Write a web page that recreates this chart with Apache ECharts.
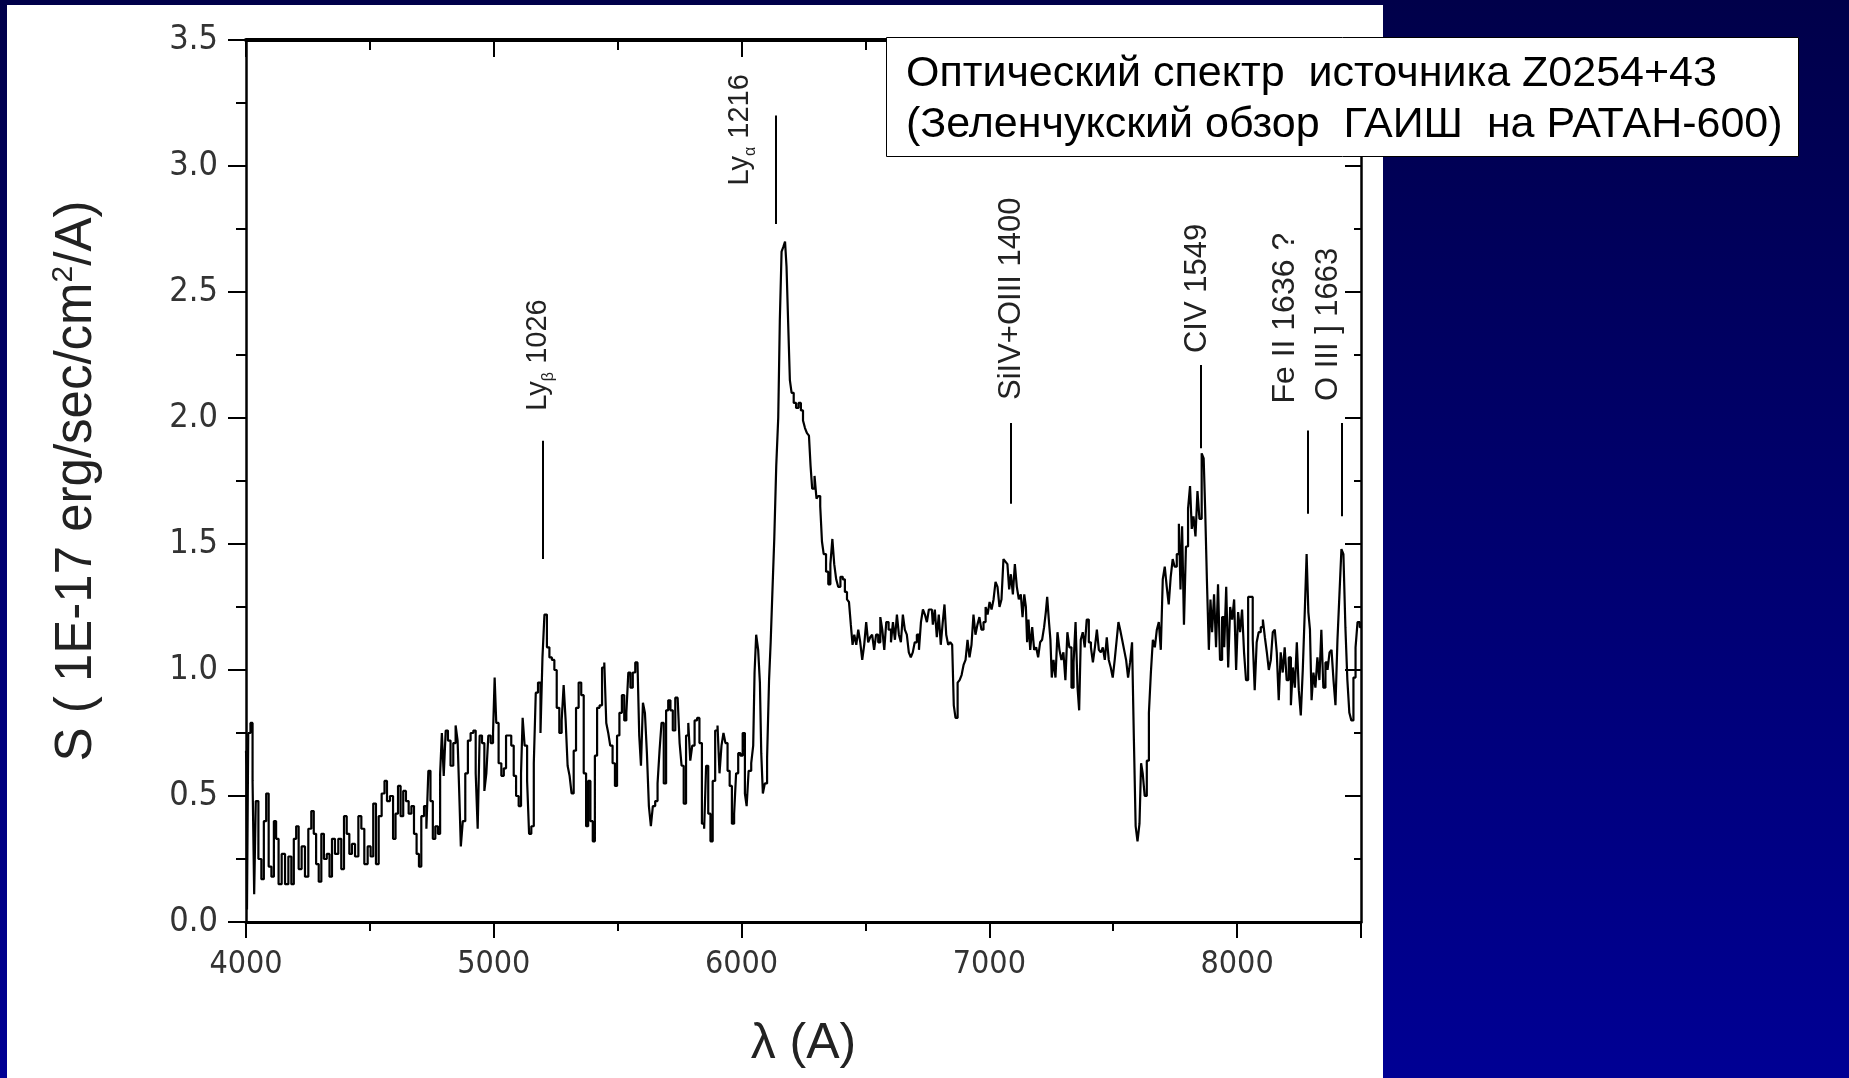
<!DOCTYPE html>
<html>
<head>
<meta charset="utf-8">
<title>Z0254+43</title>
<script src="https://cdn.jsdelivr.net/npm/echarts@6/dist/echarts.min.js"></script>
<style>
  html, body { margin: 0; padding: 0; }
  body { width: 1849px; height: 1078px; overflow: hidden; background: linear-gradient(#00004a, #000094); }
  #sheet { position: absolute; left: 7px; top: 5px; width: 1376px; height: 1073px; background: #fff; }
  #main { position: absolute; left: 0; top: 0; width: 1849px; height: 1078px; }
</style>
</head>
<body>
<div id="sheet"></div>
<div id="main"></div>
<script>
// spectrum, [wavelength A, flux 1E-17]
var blueEnd = [[4000,0.68],[4003,0.62],[4005,0.05],[4013,0.75],[4023,0.79],[4030,0.56],[4036,0.11],[4043,0.48],[4057,0.25],[4067,0.17],[4077,0.40],[4086,0.51],[4097,0.22],[4108,0.18],[4117,0.40],[4126,0.33],[4137,0.15],[4151,0.27],[4164,0.15],[4178,0.26],[4188,0.15],[4198,0.33],[4207,0.38],[4218,0.21],[4231,0.30],[4245,0.18],[4258,0.37],[4269,0.44],[4278,0.35],[4288,0.23],[4299,0.16],[4309,0.35],[4320,0.25],[4332,0.27],[4342,0.18],[4352,0.33],[4366,0.27],[4379,0.33],[4390,0.21],[4401,0.42],[4412,0.35],[4422,0.27],[4433,0.31],[4447,0.26],[4460,0.42],[4471,0.37],[4484,0.23],[4498,0.30],[4508,0.26],[4519,0.47],[4530,0.23],[4541,0.42],[4554,0.51],[4564,0.56],[4574,0.48],[4588,0.50],[4599,0.33],[4608,0.43],[4619,0.54],[4629,0.42],[4640,0.52],[4651,0.48],[4662,0.43],[4673,0.46],[4683,0.35],[4694,0.27],[4702,0.22],[4713,0.42],[4724,0.46],[4732,0.37],[4740,0.60],[4749,0.48],[4759,0.33],[4769,0.38],[4780,0.35],[4787,0.59],[4794,0.75],[4802,0.58],[4810,0.76],[4820,0.72],[4831,0.62],[4842,0.71],[4850,0.78],[4858,0.72],[4864,0.50],[4870,0.30],[4880,0.40],[4890,0.59],[4901,0.72],[4912,0.75],[4923,0.76],[4931,0.59],[4939,0.37],[4947,0.74],[4958,0.71],[4966,0.52],[4974,0.59],[4982,0.74],[4993,0.71]]
var lybRegion = [[5001,0.75],[5006,0.97],[5014,0.79],[5025,0.63],[5036,0.58],[5045,0.61],[5054,0.74],[5065,0.74],[5076,0.70],[5085,0.58],[5095,0.50],[5106,0.46],[5114,0.59],[5119,0.81],[5130,0.70],[5139,0.56],[5146,0.35],[5157,0.38],[5166,0.63],[5173,0.91],[5184,0.95],[5193,0.75],[5200,1.05],[5209,1.22],[5220,1.09],[5229,1.05],[5240,1.04],[5249,1.00],[5259,0.85],[5270,0.75],[5278,0.80],[5286,0.94],[5294,0.80],[5302,0.62],[5310,0.58],[5318,0.51],[5327,0.68],[5337,0.85],[5348,0.95],[5358,0.90],[5368,0.59],[5377,0.38],[5385,0.56],[5395,0.40],[5404,0.32],[5412,0.66],[5422,0.85],[5432,0.86],[5442,1.01],[5450,1.03],[5458,0.79],[5466,0.75],[5474,0.70],[5485,0.63],[5493,0.54],[5502,0.74],[5512,0.83],[5522,0.90],[5531,0.80],[5539,0.83],[5547,0.99],[5556,0.93],[5566,0.99],[5576,1.03],[5584,1.03],[5590,0.74],[5598,0.62],[5606,0.87],[5614,0.83],[5622,0.67],[5630,0.46],[5638,0.38],[5646,0.46],[5657,0.48],[5665,0.55],[5673,0.68],[5681,0.79],[5691,0.55],[5700,0.84],[5708,0.88],[5718,0.84],[5727,0.76],[5738,0.89],[5746,0.89],[5754,0.71],[5762,0.62],[5771,0.47],[5781,0.74],[5789,0.79],[5797,0.64],[5805,0.70],[5816,0.80],[5825,0.81],[5835,0.71],[5845,0.39],[5853,0.37],[5861,0.62],[5870,0.43],[5879,0.32],[5888,0.56],[5899,0.76],[5907,0.78],[5915,0.59],[5923,0.70],[5931,0.75],[5939,0.71],[5948,0.60],[5956,0.54],[5966,0.39],[5974,0.43],[5982,0.59],[5991,0.67]]
var lyaRegion = [[6000,0.66],[6009,0.75],[6018,0.51],[6023,0.46],[6034,0.60],[6044,0.63],[6050,0.70],[6055,0.99],[6063,1.14],[6071,1.08],[6077,0.95],[6082,0.67],[6090,0.51],[6098,0.55],[6108,0.65],[6114,0.96],[6121,1.11],[6128,1.31],[6136,1.52],[6144,1.81],[6152,2.00],[6157,2.39],[6166,2.66],[6172,2.68],[6179,2.70],[6184,2.60],[6192,2.38],[6198,2.15],[6206,2.10],[6215,2.06],[6225,2.04],[6235,2.06],[6244,2.03],[6252,1.99],[6260,1.96],[6268,1.94],[6276,1.93],[6281,1.81],[6289,1.72],[6300,1.77],[6305,1.68],[6313,1.69],[6322,1.65],[6327,1.51],[6336,1.46],[6346,1.39],[6354,1.34],[6363,1.42],[6370,1.52],[6378,1.42],[6386,1.36],[6394,1.33],[6404,1.37],[6413,1.36],[6421,1.31],[6430,1.28],[6437,1.27],[6445,1.18],[6451,1.10],[6459,1.14],[6467,1.10],[6475,1.16],[6483,1.11],[6491,1.04],[6499,1.10],[6507,1.19],[6515,1.11],[6523,1.13],[6531,1.14],[6539,1.08],[6547,1.14],[6556,1.11],[6564,1.21],[6572,1.16],[6580,1.08],[6588,1.19],[6599,1.16],[6607,1.11],[6615,1.19],[6623,1.12],[6631,1.22],[6639,1.14],[6647,1.11],[6655,1.22],[6663,1.16],[6671,1.14],[6679,1.07],[6687,1.05],[6695,1.07],[6703,1.11],[6712,1.14],[6720,1.08],[6728,1.19],[6736,1.24],[6744,1.22],[6752,1.19],[6760,1.24],[6768,1.24],[6776,1.18],[6784,1.24],[6792,1.13],[6800,1.22],[6808,1.10],[6816,1.19],[6822,1.26],[6830,1.14],[6838,1.10],[6846,1.11],[6854,1.10],[6859,0.86],[6868,0.81],[6876,0.95],[6884,0.96],[6892,0.98],[6900,1.02],[6908,1.04],[6916,1.12],[6924,1.05],[6932,1.10],[6940,1.22],[6948,1.14],[6956,1.18],[6964,1.21],[6972,1.16],[6981,1.19],[6989,1.25],[6997,1.22]]
var civRegion = [[7005,1.27],[7013,1.24],[7021,1.28],[7029,1.35],[7037,1.33],[7045,1.25],[7053,1.28],[7061,1.44],[7069,1.43],[7077,1.42],[7083,1.32],[7091,1.38],[7099,1.30],[7107,1.42],[7115,1.33],[7123,1.28],[7131,1.30],[7137,1.21],[7145,1.30],[7150,1.25],[7155,1.11],[7161,1.20],[7169,1.08],[7177,1.17],[7185,1.08],[7193,1.09],[7201,1.05],[7209,1.11],[7217,1.12],[7225,1.17],[7231,1.23],[7236,1.29],[7244,1.20],[7249,1.12],[7255,0.97],[7263,1.04],[7271,0.97],[7279,1.15],[7287,1.08],[7295,1.04],[7303,1.07],[7311,0.96],[7319,1.15],[7327,1.09],[7336,0.93],[7344,1.03],[7352,1.19],[7360,0.93],[7365,0.84],[7373,1.12],[7381,1.15],[7389,1.09],[7397,1.20],[7406,1.11],[7414,1.09],[7422,1.03],[7430,1.09],[7438,1.16],[7446,1.08],[7454,1.07],[7462,1.09],[7470,1.04],[7478,1.13],[7486,1.04],[7494,1.01],[7502,0.97],[7510,1.04],[7518,1.12],[7524,1.19],[7532,1.16],[7540,1.12],[7548,1.08],[7556,1.04],[7564,0.97],[7572,1.03],[7580,1.11],[7587,0.72],[7594,0.38],[7602,0.32],[7610,0.39],[7615,0.63],[7623,0.59],[7631,0.50],[7640,0.64],[7648,0.83],[7656,0.99],[7664,1.12],[7672,1.09],[7680,1.16],[7688,1.19],[7696,1.08],[7704,1.36],[7712,1.41],[7720,1.33],[7728,1.26],[7736,1.37],[7744,1.44],[7752,1.41],[7761,1.46],[7769,1.58],[7774,1.32],[7782,1.57],[7789,1.18],[7798,1.49],[7806,1.64],[7814,1.73],[7820,1.56],[7828,1.61],[7836,1.53],[7844,1.71],[7852,1.60],[7862,1.86],[7868,1.84],[7874,1.64],[7882,1.36],[7890,1.08],[7895,1.28],[7903,1.15],[7911,1.30],[7919,1.09],[7927,1.34],[7935,1.04],[7944,1.21],[7952,1.09],[7960,1.33],[7968,1.01],[7976,1.25],[7984,1.20],[7992,1.28],[8000,1.00]]
var redEnd = [[8008,1.23],[8016,1.15],[8024,1.24],[8032,1.07],[8040,0.96],[8049,1.29],[8059,1.29],[8067,1.12],[8075,0.92],[8083,1.11],[8091,1.15],[8100,1.17],[8108,1.20],[8116,1.13],[8124,1.07],[8132,1.00],[8140,1.04],[8148,1.15],[8156,1.16],[8164,1.07],[8172,0.88],[8180,1.07],[8188,0.99],[8196,1.09],[8204,0.96],[8213,1.05],[8221,0.86],[8229,1.01],[8237,0.93],[8245,1.11],[8253,0.92],[8261,0.82],[8269,1.00],[8277,1.23],[8284,1.46],[8291,1.23],[8297,1.16],[8304,0.88],[8312,0.99],[8320,0.93],[8328,1.05],[8336,0.96],[8344,1.16],[8352,0.93],[8361,1.03],[8369,1.00],[8377,1.07],[8385,1.08],[8393,0.96],[8401,0.86],[8409,1.12],[8417,1.30],[8425,1.48],[8433,1.46],[8441,1.17],[8449,0.96],[8457,0.83],[8465,0.80],[8474,0.97],[8482,1.09],[8490,1.19],[8500,1.17]]

// emission line marks
var lineLabels = ['Ly{sub|β} 1026', 'Ly{sub|α} 1216', 'SiIV+OIII 1400', 'CIV 1549', 'Fe II 1636 ?', 'O III ] 1663']
var lineWave = [5196, 6139, 7085, 7855, 8286, 8421]
var lineTop = [1.91, 3.20, 1.98, 2.21, 1.95, 1.98]
var lineBottom = [1.44, 2.77, 1.66, 1.88, 1.62, 1.61]

// label shift from the top of each mark, px
var labelShift = [[-4, -30], [-36, 70], [1, -23], [-4, -12], [-23, -27], [-13, -22]]
var labelSize = [29, 29, 31, 31, 32, 31]

var xMin = 4000, xMax = 8500, yMin = 0, yMax = 3.5
var narrow = "'Liberation Sans Narrow', 'Arial Narrow', 'DejaVu Sans Condensed', sans-serif"
var sans = "'Liberation Sans', Arial, sans-serif"

var spectrum = blueEnd.concat(lybRegion, lyaRegion, civRegion, redEnd)

var chart = echarts.init(document.getElementById('main'))

var noLine = {show: false}
var noSplit = {show: false}
var tick = function (len, inside, w) {
  return {show: true, inside: inside, length: len, lineStyle: {color: '#000', width: w || 2}}
}

chart.setOption({
  animation: false,
  title: {
    text: 'Оптический спектр  источника Z0254+43\n(Зеленчукский обзор  ГАИШ  на РАТАН-600)',
    left: 886,
    top: 37,
    padding: [12, 16, 6, 20],
    backgroundColor: '#fff',
    borderColor: '#000',
    borderWidth: 1,
    textStyle: {fontFamily: sans, fontSize: 43, fontWeight: 'normal', color: '#000', lineHeight: 51}
  },
  grid: {left: 246, right: 488, top: 40, bottom: 156, containLabel: false},
  xAxis: [
    {
      type: 'value', position: 'bottom', min: xMin, max: xMax, interval: 1000,
      axisLine: {show: true, onZero: false, lineStyle: {color: '#000', width: 3}},
      axisTick: tick(16, false),
      axisLabel: {
        margin: 27, fontSize: 32, color: '#333', fontFamily: narrow,
        formatter: function (v) { return v % 1000 === 0 ? String(v) : '' }
      },
      splitLine: noSplit,
      name: 'λ (A)', nameLocation: 'middle', nameGap: 97,
      nameTextStyle: {fontSize: 50, color: '#222', fontFamily: sans}
    },
    {
      type: 'value', position: 'bottom', min: xMin, max: xMax, interval: 500,
      axisLine: {show: false, onZero: false}, axisTick: tick(9, false),
      axisLabel: noLine, splitLine: noSplit
    },
    {
      type: 'value', position: 'top', min: xMin, max: xMax, interval: 1000,
      axisLine: {show: true, onZero: false, lineStyle: {color: '#000', width: 4}},
      axisTick: tick(17, true), axisLabel: noLine, splitLine: noSplit
    },
    {
      type: 'value', position: 'top', min: xMin, max: xMax, interval: 500,
      axisLine: {show: false, onZero: false}, axisTick: tick(10, true),
      axisLabel: noLine, splitLine: noSplit
    }
  ],
  yAxis: [
    {
      type: 'value', position: 'left', min: yMin, max: yMax, interval: 0.5,
      axisLine: {show: true, onZero: false, lineStyle: {color: '#000', width: 2.5}},
      axisTick: tick(18, false),
      axisLabel: {
        margin: 28, fontSize: 34, color: '#333', fontFamily: narrow,
        formatter: function (v) { return v.toFixed(1) }
      },
      splitLine: noSplit,
      name: 'S ( 1E-17 erg/sec/cm{sup|2}/A)', nameLocation: 'middle', nameRotate: 90, nameGap: 141,
      nameTextStyle: {
        fontSize: 51, color: '#222', fontFamily: sans, lineHeight: 56,
        rich: {sup: {fontSize: 30, fontFamily: sans, color: '#222', verticalAlign: 'top', lineHeight: 26}}
      }
    },
    {
      type: 'value', position: 'left', min: yMin, max: yMax, interval: 0.25,
      axisLine: {show: false, onZero: false}, axisTick: tick(10, false),
      axisLabel: noLine, splitLine: noSplit
    },
    {
      type: 'value', position: 'right', min: yMin, max: yMax, interval: 0.5,
      axisLine: {show: true, onZero: false, lineStyle: {color: '#000', width: 2.5}},
      axisTick: tick(16, true), axisLabel: noLine, splitLine: noSplit
    },
    {
      type: 'value', position: 'right', min: yMin, max: yMax, interval: 0.25,
      axisLine: {show: false, onZero: false}, axisTick: tick(7, true),
      axisLabel: noLine, splitLine: noSplit
    }
  ],
  series: [{
    type: 'line',
    xAxisIndex: 0,
    yAxisIndex: 0,
    data: spectrum,
    step: 'middle',
    showSymbol: false,
    silent: true,
    lineStyle: {color: '#000', width: 2.2},
    markLine: {
      silent: true,
      symbol: 'none',
      label: {show: false},
      lineStyle: {color: '#000', width: 2, type: 'solid'},
      data: lineWave.map(function (w, i) {
        return [{coord: [w, lineTop[i]]}, {coord: [w, lineBottom[i]]}]
      })
    }
  }]
})

// rotated labels over the marks
var labels = lineLabels.map(function (txt, i) {
  var p = chart.convertToPixel({xAxisIndex: 0, yAxisIndex: 0}, [lineWave[i], lineTop[i]])
  var size = labelSize[i]
  return {
    type: 'text',
    x: p[0] + labelShift[i][0],
    y: p[1] + labelShift[i][1],
    rotation: Math.PI / 2,
    silent: true,
    style: {
      text: txt,
      align: 'left',
      verticalAlign: 'middle',
      fill: '#222',
      font: size + 'px ' + sans,
      lineHeight: size + 8,
      rich: {sub: {fontSize: 16, fontFamily: sans, fill: '#222', verticalAlign: 'bottom', lineHeight: 16}}
    }
  }
})
chart.setOption({graphic: labels})
</script>
</body>
</html>
